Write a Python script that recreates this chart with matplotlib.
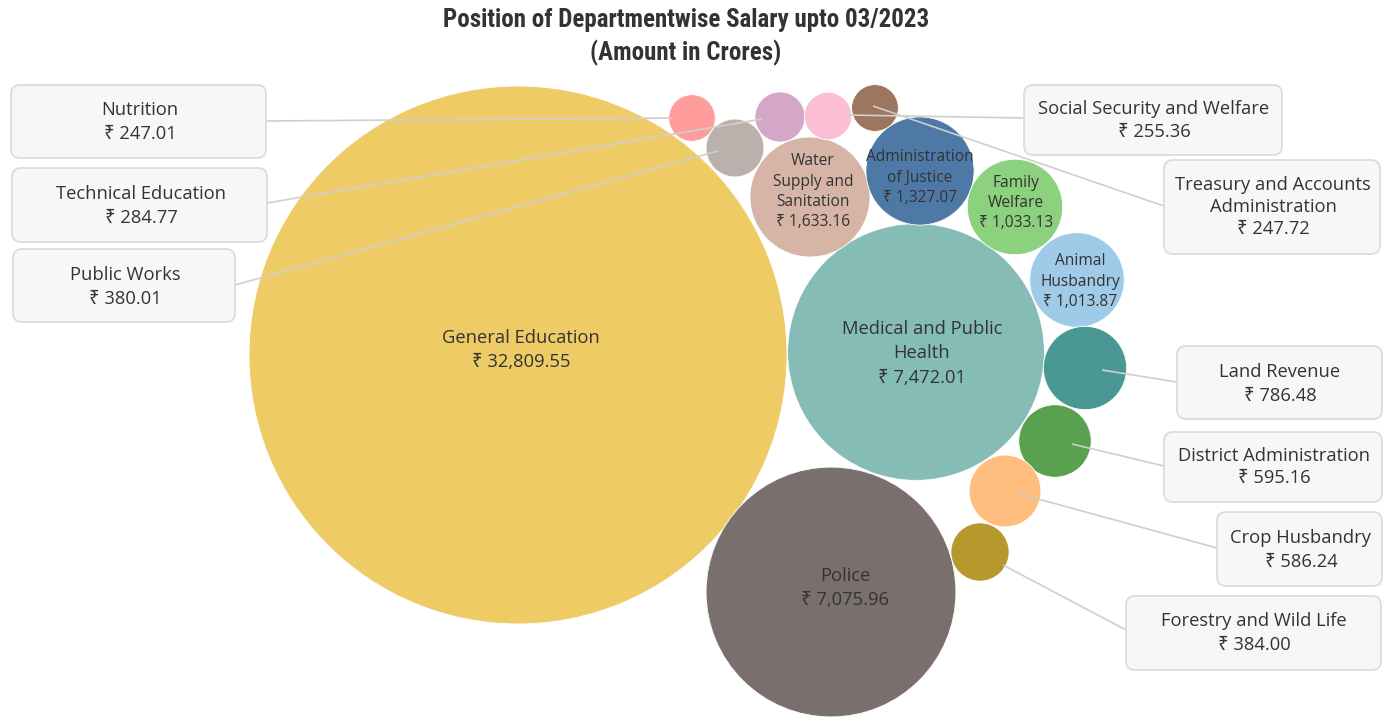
import matplotlib
matplotlib.use("Agg")
import matplotlib.pyplot as plt
from matplotlib.patches import FancyBboxPatch
from matplotlib import font_manager
import numpy as np

# ---------------- data ----------------
departments = [
    "General Education", "Medical and Public Health", "Police",
    "Water Supply and Sanitation", "Administration of Justice", "Family Welfare",
    "Animal Husbandry", "Land Revenue", "District Administration",
    "Crop Husbandry", "Forestry and Wild Life", "Public Works",
    "Technical Education", "Nutrition", "Social Security and Welfare",
    "Treasury and Accounts Administration",
]
salary_crores = [
    32809.55, 7472.01, 7075.96,
    1633.16, 1327.07, 1033.13,
    1013.87, 786.48, 595.16,
    586.24, 384.00, 380.01,
    284.77, 247.01, 255.36,
    247.72,
]
colors = [
    "#EECB65", "#86BCB6", "#79706E",
    "#D7B5A6", "#4E79A7", "#8CD17D",
    "#A0CBE8", "#499894", "#59A14F",
    "#FFBE7D", "#B6992D", "#BAB0AC",
    "#D4A6C8", "#FF9D9A", "#FABFD2",
    "#9D7660",
]

inside_lines = {
    "General Education": ["General Education"],
    "Medical and Public Health": ["Medical and Public", "Health"],
    "Police": ["Police"],
    "Water Supply and Sanitation": ["Water", "Supply and", "Sanitation"],
    "Administration of Justice": ["Administration", "of Justice"],
    "Family Welfare": ["Family", "Welfare"],
    "Animal Husbandry": ["Animal", "Husbandry"],
}
box_lines = {
    "Nutrition": ["Nutrition"],
    "Technical Education": ["Technical Education"],
    "Public Works": ["Public Works"],
    "Social Security and Welfare": ["Social Security and Welfare"],
    "Treasury and Accounts Administration": ["Treasury and Accounts", "Administration"],
    "Land Revenue": ["Land Revenue"],
    "District Administration": ["District Administration"],
    "Crop Husbandry": ["Crop Husbandry"],
    "Forestry and Wild Life": ["Forestry and Wild Life"],
}

# ---------------- layout (pixel space) ----------------
bubble_x = [518, 916, 831, 810, 920, 1015, 1077, 1085, 1055, 1005, 980, 735, 780, 692, 828, 875]
bubble_y = [355, 352, 592, 197, 171, 207, 280, 368, 441, 491, 552, 148, 117, 118, 116, 108]

BIG_FS, SMALL_FS, BOX_FS = 13.2, 11.2, 13.2
inside_layout = {
    "General Education": (521, 338, 24, BIG_FS),
    "Medical and Public Health": (922, 329, 24.5, BIG_FS),
    "Police": (845, 576, 24, BIG_FS),
    "Water Supply and Sanitation": (813, 161, 20.5, SMALL_FS),
    "Administration of Justice": (920, 157, 20.5, SMALL_FS),
    "Family Welfare": (1016, 183, 20, SMALL_FS),
    "Animal Husbandry": (1080, 261, 20.5, SMALL_FS),
}
box_layout = {
    "Nutrition": ((11, 85, 266, 158), (266, 121), (673, 118), 140, 110, 24),
    "Technical Education": ((12, 168, 267, 242), (267, 203), (762, 119), 141, 194, 24),
    "Public Works": ((13, 249, 235, 322), (235, 285), (718, 151), 125, 275, 24),
    "Social Security and Welfare": ((1024, 85, 1282, 155), (1024, 118), (847, 115), 1154, 109, 23),
    "Treasury and Accounts Administration": ((1164, 160, 1380, 254), (1164, 206), (873, 106), 1273, 185, 22),
    "Land Revenue": ((1177, 346, 1382, 419), (1177, 382), (1102, 370), 1280, 372, 24),
    "District Administration": ((1164, 432, 1382, 502), (1164, 466), (1072, 444), 1274, 456, 22),
    "Crop Husbandry": ((1217, 512, 1382, 586), (1217, 548), (1020, 494), 1301, 538, 24),
    "Forestry and Wild Life": ((1126, 596, 1381, 670), (1126, 630), (1003, 565), 1254, 621, 24),
}

W, H, DPI = 1389, 719, 100
SIZE_SCALE = 4.572  # marker area (pt^2) per crore

def fmt(v):
    return "\u20b9 " + f"{v:,.2f}"

avail = {f.name for f in font_manager.fontManager.ttflist}
body_family = [f for f in ["Open Sans", "Noto Sans", "DejaVu Sans"] if f in avail]
title_family = [f for f in ["Roboto Condensed", "DejaVu Sans Condensed", "Liberation Sans Narrow",
                            "DejaVu Sans"] if f in avail]
txt_color = "#333333"

fig = plt.figure(figsize=(W / DPI, H / DPI), dpi=DPI)
ax = fig.add_axes([0, 0, 1, 1])
ax.set_xlim(0, W)
ax.set_ylim(H, 0)
ax.axis("off")

ax.scatter(bubble_x, bubble_y, s=np.array(salary_crores) * SIZE_SCALE,
           c=colors, marker="o", linewidths=0.6, edgecolors="white", zorder=1)

for name, val in zip(departments, salary_crores):
    if name in inside_layout:
        x, y0, step, fs = inside_layout[name]
        lines = inside_lines[name] + [fmt(val)]
        for i, t in enumerate(lines):
            ax.text(x, y0 + i * step, t, ha="center", va="center", fontsize=fs,
                    color=txt_color, family=body_family, zorder=5)
    if name in box_layout:
        (x0, y0, x1, y1), ls, le, tx, ty, step = box_layout[name]
        ax.plot([ls[0], le[0]], [ls[1], le[1]], color="#cfcfcf", lw=1.2, zorder=2,
                solid_capstyle="butt")
        box = FancyBboxPatch((x0, y0), x1 - x0, y1 - y0,
                             boxstyle="round,pad=0,rounding_size=9",
                             facecolor="#f7f7f7", edgecolor="#dcdcdc", lw=1.3, zorder=3)
        ax.add_patch(box)
        lines = box_lines[name] + [fmt(val)]
        for i, t in enumerate(lines):
            ax.text(tx, ty + i * step, t, ha="center", va="center", fontsize=BOX_FS,
                    color=txt_color, family=body_family, zorder=5)

for t, y in [("Position of Departmentwise Salary upto 03/2023", 20), ("(Amount in Crores)", 53)]:
    ax.text(686, y, t, ha="center", va="center", fontsize=18, fontweight="bold",
            color="#333333", family=title_family)

fig.savefig("out.png", dpi=DPI, facecolor="white")
